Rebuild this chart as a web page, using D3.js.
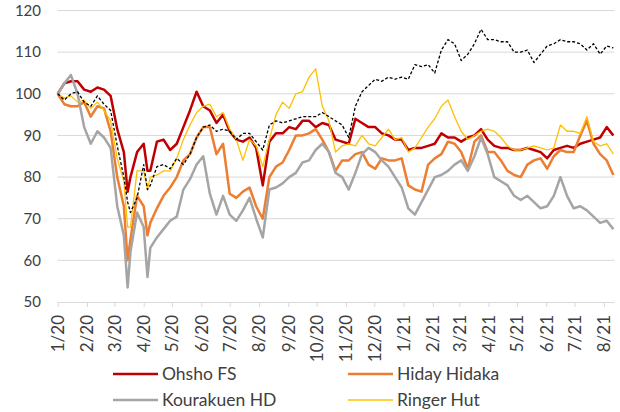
<!DOCTYPE html>
<html><head><meta charset="utf-8">
<script src="https://cdn.jsdelivr.net/npm/d3@7"></script>
<style>body{margin:0;background:#fff;}svg{display:block;font-family:Lato,"Open Sans",sans-serif;}</style>
</head><body><svg id="c" width="620" height="412"></svg>
<script>
const dates = ["2020-01-01","2020-01-08","2020-01-15","2020-01-22","2020-01-29","2020-02-05","2020-02-12","2020-02-19","2020-02-26","2020-03-04","2020-03-11","2020-03-15","2020-03-18","2020-03-25","2020-04-01","2020-04-05","2020-04-08","2020-04-15","2020-04-22","2020-04-29","2020-05-06","2020-05-13","2020-05-20","2020-05-27","2020-06-03","2020-06-10","2020-06-17","2020-06-24","2020-07-01","2020-07-08","2020-07-15","2020-07-22","2020-07-29","2020-08-05","2020-08-12","2020-08-19","2020-08-26","2020-09-02","2020-09-09","2020-09-16","2020-09-23","2020-09-30","2020-10-07","2020-10-14","2020-10-21","2020-10-28","2020-11-04","2020-11-11","2020-11-18","2020-11-25","2020-12-02","2020-12-09","2020-12-16","2020-12-23","2020-12-30","2021-01-06","2021-01-13","2021-01-20","2021-01-27","2021-02-03","2021-02-10","2021-02-17","2021-02-24","2021-03-03","2021-03-10","2021-03-17","2021-03-24","2021-03-31","2021-04-07","2021-04-14","2021-04-21","2021-04-28","2021-05-05","2021-05-12","2021-05-19","2021-05-26","2021-06-02","2021-06-09","2021-06-16","2021-06-23","2021-06-30","2021-07-07","2021-07-14","2021-07-21","2021-07-28","2021-08-04","2021-08-11"];

const ohsho = [100,102.5,103,103,101,100.5,101.5,101,99.5,91.5,86,76.5,80,86,88,81.5,81.5,88.5,89,86.5,88,92,96,100.5,97,96,93,95,91,89,88.5,89.5,87,78,88.5,90.5,90.5,92,91.5,93.5,93.5,92,93,92.5,89,88.5,88,94,93,92,92,90.5,90,89,89,86.5,87,87,87.5,88,90.5,89.5,89.5,88.5,89.5,90,91.5,89,87.5,87,87,86.5,86.5,87,86.5,86,84.5,86.5,87,87.5,87,88,88.5,89,89.5,92,90];
const hiday = [100,97.5,97,97,98,94.5,97,96.5,91,80,73,60,65,75.5,73,66,69,72.5,75.5,77.5,80,84,85.5,89.5,92,92,85.5,88,76,75,76.5,77.5,73,70,80,82.5,83.5,86.5,90,90,90.5,91.5,89,86,81.5,84,84,85.5,86,83,82,84.5,84,84,84.5,78,77,76.5,83,84.5,85.5,88.5,88,86,82,88.5,90,86,86,84,81.5,80.5,80,83,84,84.5,82,85,86.5,86,86,90,93.5,88,85.5,84,80.5];
const kourakuen = [100,102.5,104.5,100,92,88,91,89.5,87,73,66,53.5,62,71.5,68,56,63,65.5,67.5,69.5,70.5,77,79.5,83,85,76,71,75.5,71,69.5,72,75,70,65.5,77,77.5,78.5,80,81,83.5,84,86.5,88,86,81,80,77,81,85.5,87,86,84,82.5,80,77.5,72.5,71,74,77,80,80.5,81.5,83,84,81.5,85,89.5,85.5,80,79,78,75.5,74.5,75.5,74,72.5,73,75.5,80,75.5,72.5,73,72,70.5,69,69.5,67.5];
const ringer = [100,99,99.5,98,98.5,96.5,98,96,93.5,84.5,79,68,68,81.5,81.5,77,80,80.5,81.5,81.5,84.5,89,92.5,95.5,97,97.5,94.5,95.5,91.5,89,84,89,87.5,82.5,89,95,98,96.5,100,100.5,104,106,97,93.5,86,87.5,88,87.5,90,88,87.5,89.5,91.5,89,89.5,86,87,89.5,92,94,97,98.5,94.5,91,89,90,91,91.5,91,89.5,87.5,86.5,86.5,87,87.5,87,86.5,87,92.5,91,91,90.5,94.5,88.5,87.5,88,85.5];
const indexLine = [100,98.5,100,100.5,98,97,99.5,97.5,96,87.5,80,74,71.5,75,83,77,78,82.5,83,82,84.5,83,85.5,89.5,92,92.5,91,91.5,91,89,90.5,90.5,88.5,86.5,92.5,93.5,93,93.5,94,94.5,94.5,94.5,95.5,94.5,93.5,92.5,89.5,97,100.5,102,103.5,103,104,103.5,104,103.5,107,106.5,107,105,110.5,113,112,108,109.5,112,115.5,113,113,112.5,112.5,110,110,110.5,107.5,109.5,111.5,112,113,112.5,112.5,112,110.5,112,109.5,111.5,111];

const yTicks = [50,60,70,80,90,100,110,120];
const legendNames = ["Ohsho FS","Hiday Hidaka","Kourakuen HD","Ringer Hut"];

const parse = d3.timeParse("%Y-%m-%d");
const D = dates.map(parse);
const svg = d3.select("#c");
const x = d3.scaleTime().domain([parse("2020-01-01"), parse("2021-08-12")]).range([57.7, 614.3]);
const y = d3.scaleLinear().domain([50,120]).range([302, 10.5]);

// gridlines
svg.append("g").selectAll("line").data(yTicks.filter(v=>v>50)).join("line")
  .attr("x1",57.7).attr("x2",614.3).attr("y1",d=>y(d)).attr("y2",d=>y(d))
  .attr("stroke","#d9d9d9").attr("stroke-width",1);

// y labels
svg.append("g").selectAll("text").data(yTicks).join("text")
  .attr("x",41).attr("y",d=>y(d)).attr("dy","0.35em").attr("text-anchor","end")
  .attr("font-size",15).attr("fill","#404040").text(d=>d);

// x axis
const months = d3.timeMonth.range(parse("2020-01-01"), parse("2021-08-02"));
const xAxis = d3.axisBottom(x).tickValues(months).tickSize(5).tickFormat(d3.timeFormat("%-m/%y"));
const gx = svg.append("g").attr("transform","translate(0,302)").call(xAxis);
gx.select(".domain").attr("stroke","#d9d9d9").attr("d","M57.7,0.5H614.3");
gx.selectAll(".tick line").attr("stroke","#d9d9d9");
gx.selectAll(".tick text").attr("font-size",17).attr("fill","#404040")
  .attr("font-family","Lato,'Open Sans',sans-serif")
  .attr("transform","rotate(-90)").attr("text-anchor","end")
  .attr("x",-13).attr("y",0).attr("dy","0.35em");

const line = d3.line().x((d,i)=>x(D[i])).y(d=>y(d));
const series = [
  {v:ohsho, c:"#C00000", w:2.5},
  {v:hiday, c:"#ED7D31", w:2.5},
  {v:kourakuen, c:"#A5A5A5", w:2.5},
  {v:ringer, c:"#FFC000", w:1.3},
  {v:indexLine, c:"#000000", w:1.3, dash:"3,2"}
];
series.forEach(s=>{
  svg.append("path").datum(s.v).attr("d",line).attr("fill","none")
    .attr("stroke",s.c).attr("stroke-width",s.w).attr("stroke-linejoin","round")
    .attr("stroke-dasharray",s.dash||null);
});

// legend
const lg = [
  {n:legendNames[0],c:"#C00000",w:2.5,x:113,y:374},
  {n:legendNames[1],c:"#ED7D31",w:2.5,x:348,y:374},
  {n:legendNames[2],c:"#A5A5A5",w:2.5,x:113,y:400},
  {n:legendNames[3],c:"#FFC000",w:1.3,x:348,y:400}
];
const gl = svg.append("g");
lg.forEach(l=>{
  gl.append("line").attr("x1",l.x).attr("x2",l.x+45).attr("y1",l.y).attr("y2",l.y)
    .attr("stroke",l.c).attr("stroke-width",l.w);
  gl.append("text").attr("x",l.x+49).attr("y",l.y).attr("dy","0.35em")
    .attr("font-size",17.5).attr("fill","#404040").text(l.n);
});
</script></body></html>
